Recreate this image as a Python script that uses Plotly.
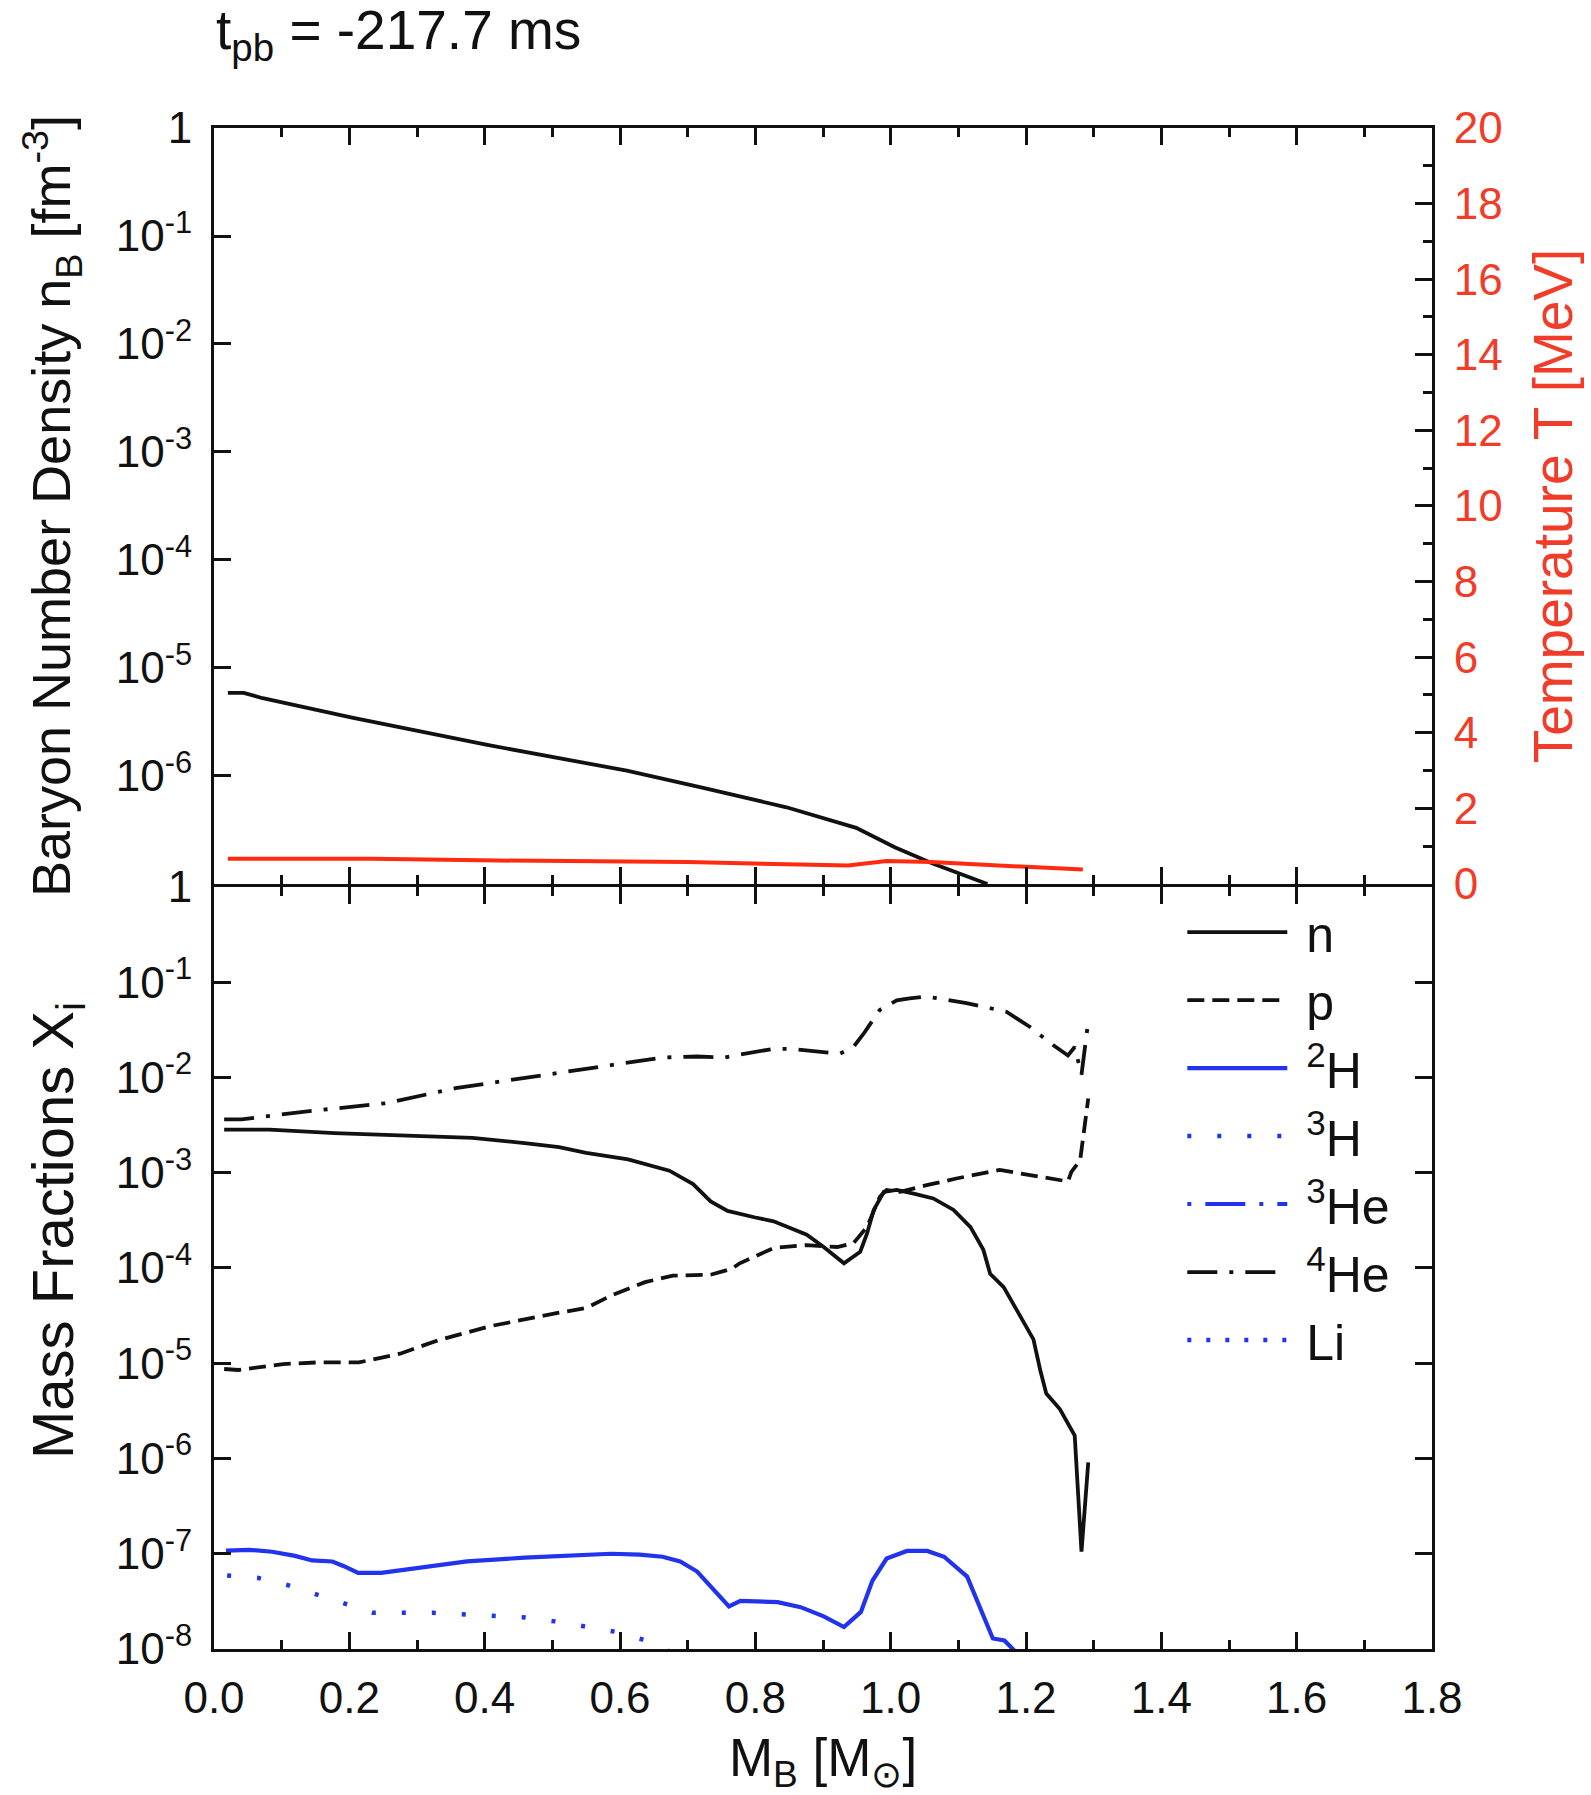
import plotly.graph_objects as go

# ---------------- data ----------------
# upper panel: baryon number density [fm^-3] vs enclosed baryon mass
nb_mass = [0.0205, 0.044, 0.072, 0.204, 0.402, 0.61, 0.723, 0.846, 0.949, 1.006, 1.062, 1.143]
nb_density = [5.89e-6, 5.89e-6, 5.25e-6, 3.47e-6, 1.95e-6, 1.12e-6, 7.76e-7, 5.13e-7,
              3.31e-7, 2.19e-7, 1.55e-7, 1.0e-7]

# upper panel: temperature [MeV]
t_mass = [0.0205, 0.233, 0.42, 0.70, 0.937, 0.994, 1.06, 1.17, 1.284]
t_temp = [0.67, 0.67, 0.62, 0.58, 0.49, 0.61, 0.58, 0.49, 0.38]

# lower panel: mass fractions
n_mass = [0.015, 0.082, 0.178, 0.28, 0.382, 0.459, 0.51, 0.55, 0.612, 0.673, 0.708, 0.734,
          0.759, 0.80, 0.827, 0.876, 0.901, 0.931, 0.955, 0.965, 0.975, 0.99, 1.009, 1.034,
          1.063, 1.093, 1.118, 1.137, 1.147, 1.167, 1.186, 1.211, 1.221, 1.230, 1.25, 1.272,
          1.282, 1.292]
n_frac = [2.83e-3, 2.83e-3, 2.61e-3, 2.45e-3, 2.32e-3, 2.05e-3, 1.86e-3, 1.62e-3, 1.38e-3,
          1.05e-3, 7.6e-4, 5.0e-4, 3.98e-4, 3.39e-4, 3.09e-4, 2.24e-4, 1.66e-4, 1.12e-4,
          1.48e-4, 2.29e-4, 4.07e-4, 6.31e-4, 6.61e-4, 6.03e-4, 5.37e-4, 4.07e-4, 2.69e-4,
          1.55e-4, 8.7e-5, 6.3e-5, 3.63e-5, 1.78e-5, 8.5e-6, 4.8e-6, 3.3e-6, 1.74e-6,
          1.05e-7, 9.1e-7]

p_mass = [0.015, 0.036, 0.102, 0.153, 0.214, 0.275, 0.331, 0.408, 0.51, 0.55, 0.586, 0.637,
          0.678, 0.734, 0.765, 0.777, 0.827, 0.876, 0.921, 0.945, 0.965, 0.984, 0.994, 1.014,
          1.053, 1.097, 1.161, 1.196, 1.22, 1.262, 1.267, 1.28, 1.285, 1.292]
p_frac = [8.7e-6, 8.5e-6, 9.8e-6, 1.02e-5, 1.02e-5, 1.26e-5, 1.74e-5, 2.45e-5, 3.39e-5,
          3.8e-5, 5.1e-5, 7.1e-5, 8.3e-5, 8.5e-5, 9.8e-5, 1.12e-4, 1.62e-4, 1.74e-4, 1.66e-4,
          1.82e-4, 2.69e-4, 5.6e-4, 6.6e-4, 6.3e-4, 7.4e-4, 8.7e-4, 1.07e-3, 9.8e-4, 9.1e-4,
          8.1e-4, 1.02e-3, 1.35e-3, 2.4e-3, 6.0e-3]

h2_mass = [0.0177, 0.0517, 0.0857, 0.1197, 0.145, 0.175, 0.192, 0.213, 0.247, 0.306, 0.374,
           0.459, 0.544, 0.587, 0.629, 0.663, 0.689, 0.714, 0.761, 0.778, 0.833, 0.867, 0.901,
           0.931, 0.956, 0.973, 0.994, 1.024, 1.054, 1.079, 1.113, 1.134, 1.151, 1.168, 1.185]
h2_frac = [1.08e-7, 1.10e-7, 1.05e-7, 9.5e-8, 8.5e-8, 8.3e-8, 7.4e-8, 6.3e-8, 6.3e-8, 7.2e-8,
           8.3e-8, 9.1e-8, 9.8e-8, 1.0e-7, 9.8e-8, 9.3e-8, 8.3e-8, 6.5e-8, 2.8e-8, 3.2e-8,
           3.1e-8, 2.75e-8, 2.2e-8, 1.7e-8, 2.45e-8, 5.2e-8, 8.9e-8, 1.07e-7, 1.07e-7, 9.3e-8,
           5.75e-8, 2.57e-8, 1.29e-8, 1.23e-8, 9.3e-9]

h3_mass = [0.0194, 0.064, 0.108, 0.152, 0.194, 0.235, 0.324, 0.415, 0.46, 0.504, 0.55, 0.595,
           0.638, 0.68]
h3_frac = [5.9e-8, 5.6e-8, 4.7e-8, 3.7e-8, 2.95e-8, 2.4e-8, 2.4e-8, 2.24e-8, 2.14e-8,
           1.95e-8, 1.7e-8, 1.51e-8, 1.23e-8, 8.9e-9]

he3_mass = [None]   # entirely below the plotted range (legend entry only)
he3_frac = [None]

he4_mass = [0.015, 0.041, 0.138, 0.214, 0.255, 0.357, 0.459, 0.561, 0.663, 0.714, 0.754,
            0.777, 0.827, 0.851, 0.925, 0.945, 0.96, 0.984, 1.009, 1.028, 1.053, 1.112,
            1.142, 1.171, 1.206, 1.24, 1.262, 1.272, 1.282, 1.292]
he4_frac = [3.63e-3, 3.63e-3, 4.41e-3, 4.97e-3, 5.38e-3, 7.73e-3, 9.84e-3, 1.26e-2, 1.62e-2,
            1.66e-2, 1.62e-2, 1.74e-2, 2.0e-2, 2.0e-2, 1.78e-2, 2.09e-2, 2.88e-2, 5.13e-2,
            6.46e-2, 6.76e-2, 7.08e-2, 6.03e-2, 5.37e-2, 4.9e-2, 3.39e-2, 2.19e-2, 1.70e-2,
            2.09e-2, 1.07e-2, 3.89e-2]

li_mass = [None]    # entirely below the plotted range (legend entry only)
li_frac = [None]

x_ticks = [0.0, 0.2, 0.4, 0.6, 0.8, 1.0, 1.2, 1.4, 1.6, 1.8]
upper_log_ticks = [1, 1e-1, 1e-2, 1e-3, 1e-4, 1e-5, 1e-6]
upper_log_text = ["1", "10<sup>-1</sup>", "10<sup>-2</sup>", "10<sup>-3</sup>",
                  "10<sup>-4</sup>", "10<sup>-5</sup>", "10<sup>-6</sup>"]
lower_log_ticks = [1, 1e-1, 1e-2, 1e-3, 1e-4, 1e-5, 1e-6, 1e-7, 1e-8]
lower_log_text = ["1", "10<sup>-1</sup>", "10<sup>-2</sup>", "10<sup>-3</sup>",
                  "10<sup>-4</sup>", "10<sup>-5</sup>", "10<sup>-6</sup>",
                  "10<sup>-7</sup>", "10<sup>-8</sup>"]
temp_ticks = [0, 2, 4, 6, 8, 10, 12, 14, 16, 18, 20]

# ---------------- styling ----------------
FONT = "Liberation Sans, Arial, Helvetica, sans-serif"
BLACK = "#111111"
BLUE = "#2233ee"
RED = "#ff2a10"
RED_TEXT = "#f03c28"
TICKFONT = 44
FRAME_W = 3
SPLIT = 0.501
UPPER_START = SPLIT + FRAME_W / 1521.0   # lets both frame lines at the split coincide

fig = go.Figure()

fig.add_trace(go.Scatter(x=nb_mass, y=nb_density, mode="lines", showlegend=False,
                         line=dict(color=BLACK, width=3.8), xaxis="x2", yaxis="y2"))
fig.add_trace(go.Scatter(x=t_mass, y=t_temp, mode="lines", showlegend=False,
                         line=dict(color=RED, width=4), xaxis="x2", yaxis="y3"))

fig.add_trace(go.Scatter(x=n_mass, y=n_frac, mode="lines", name=" n",
                         line=dict(color=BLACK, width=3.8)))
fig.add_trace(go.Scatter(x=p_mass, y=p_frac, mode="lines", name=" p",
                         line=dict(color=BLACK, width=3.8, dash="17px,8px")))
fig.add_trace(go.Scatter(x=h2_mass, y=h2_frac, mode="lines", name=" <sup>2</sup>H",
                         line=dict(color=BLUE, width=4.2)))
fig.add_trace(go.Scatter(x=h3_mass, y=h3_frac, mode="lines", name=" <sup>3</sup>H",
                         line=dict(color=BLUE, width=4.5, dash="4px,26px")))
fig.add_trace(go.Scatter(x=he3_mass, y=he3_frac, mode="lines", name=" <sup>3</sup>He",
                         line=dict(color=BLUE, width=4, dash="4px,14px,40px,14px")))
fig.add_trace(go.Scatter(x=he4_mass, y=he4_frac, mode="lines", name=" <sup>4</sup>He",
                         line=dict(color=BLACK, width=3.8, dash="30px,12px,4px,12px")))
fig.add_trace(go.Scatter(x=li_mass, y=li_frac, mode="lines", name=" Li",
                         line=dict(color=BLUE, width=4.5, dash="4px,15px")))

common_x = dict(range=[0, 1.8], tickvals=x_ticks, tickformat=".1f", ticks="inside",
                ticklen=17, tickwidth=2.5, tickcolor=BLACK, showline=True, linewidth=FRAME_W,
                linecolor=BLACK, mirror="ticks", showgrid=False, zeroline=False,
                minor=dict(dtick=0.1, ticks="inside", ticklen=9, tickwidth=2.5,
                           tickcolor=BLACK))

fig.update_layout(
    width=1591, height=1795,
    margin=dict(l=214, r=159, t=128, b=146),
    paper_bgcolor="white", plot_bgcolor="white",
    font=dict(family=FONT, color=BLACK, size=TICKFONT),
    xaxis=dict(common_x, anchor="y", domain=[0, 1],
               tickfont=dict(size=TICKFONT), ticklabelstandoff=8,
               title=dict(text="M<sub>B</sub> [M<sub>⊙</sub>]",
                          font=dict(size=53), standoff=22)),
    xaxis2=dict(common_x, anchor="y2", domain=[0, 1], matches="x", showticklabels=False),
    yaxis=dict(type="log", range=[-8, 0], domain=[0, SPLIT], anchor="x",
               tickvals=lower_log_ticks, ticktext=lower_log_text, ticks="inside",
               ticklen=17, tickwidth=2.5, tickcolor=BLACK, showline=True, linewidth=FRAME_W,
               linecolor=BLACK, mirror="ticks", showgrid=False, zeroline=False,
               ticklabelstandoff=10, tickfont=dict(size=TICKFONT)),
    yaxis2=dict(type="log", range=[-7, 0], domain=[UPPER_START, 1], anchor="x2",
                tickvals=upper_log_ticks, ticktext=upper_log_text, ticks="inside",
                ticklen=17, tickwidth=2.5, tickcolor=BLACK, showline=True, linewidth=FRAME_W,
                linecolor=BLACK, mirror=True, showgrid=False, zeroline=False,
                ticklabelstandoff=10, tickfont=dict(size=TICKFONT),
                title=dict(text="Baryon Number Density n<sub>B</sub> [fm<sup>-3</sup>]",
                           font=dict(size=54), standoff=28)),
    yaxis3=dict(range=[0, 20], overlaying="y2", side="right", anchor="x2",
                tickvals=temp_ticks, ticks="inside", ticklen=17, tickwidth=2.5,
                tickcolor=BLACK, showline=True, linewidth=FRAME_W, linecolor=BLACK,
                showgrid=False, zeroline=False, ticklabelstandoff=10,
                tickfont=dict(color=RED_TEXT, size=TICKFONT),
                minor=dict(dtick=1, ticks="inside", ticklen=9, tickwidth=2.5,
                           tickcolor=BLACK),
                title=dict(text="Temperature T [MeV]",
                           font=dict(size=55, color=RED_TEXT), standoff=32)),
    legend=dict(x=0.795, y=0.497, xanchor="left", yanchor="top",
                bgcolor="rgba(0,0,0,0)", borderwidth=0, itemwidth=100,
                font=dict(size=50, family=FONT, color=BLACK), tracegroupgap=0),
    annotations=[
        dict(text="t<sub>pb</sub> = -217.7 ms", xref="paper", yref="paper",
             x=0.0, y=1.062, xanchor="left", yanchor="middle", showarrow=False,
             font=dict(size=55, family=FONT, color=BLACK)),
        dict(text="Mass Fractions X<sub>i</sub>", xref="paper", yref="paper",
             x=-0.1289, y=0.2755, xanchor="center", yanchor="middle", textangle=-90,
             showarrow=False, font=dict(size=58, family=FONT, color=BLACK)),
    ],
)

fig.write_html("out.html")
